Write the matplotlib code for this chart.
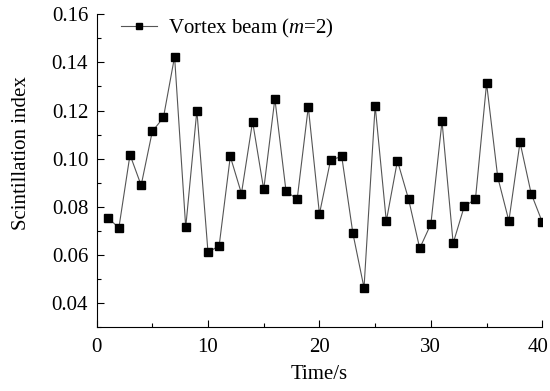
import matplotlib
matplotlib.use('Agg')
import matplotlib.pyplot as plt
import matplotlib.transforms as mtransforms
from matplotlib.ticker import MultipleLocator

plt.rcParams['font.family'] = 'Liberation Serif'
plt.rcParams['mathtext.fontset'] = 'custom'
plt.rcParams['mathtext.it'] = 'Liberation Serif:italic'
plt.rcParams['mathtext.rm'] = 'Liberation Serif'

# Data
time_s = list(range(1, 41))
scint = [0.0755, 0.0712, 0.1016, 0.0889, 0.1113, 0.1171, 0.1424, 0.0714, 0.1200, 0.0610,
         0.0638, 0.1009, 0.0855, 0.1154, 0.0872, 0.1249, 0.0865, 0.0831, 0.1215, 0.0770,
         0.0994, 0.1009, 0.0690, 0.0463, 0.1220, 0.0740, 0.0991, 0.0831, 0.0627, 0.0728,
         0.1155, 0.0648, 0.0802, 0.0831, 0.1313, 0.0923, 0.0741, 0.1068, 0.0855, 0.0736]

fig = plt.figure(figsize=(5.5, 3.91), dpi=100)
ax = fig.add_axes([0.1756, 0.1637, 0.8104, 0.7997])

ax.plot(time_s, scint, color='#555555', lw=0.8, marker='s', ms=5.5,
        mfc='black', mec='black', label='Vortex beam ($m$=2)')

ax.set_xlim(0, 40)
ax.set_ylim(0.03, 0.16)
ax.set_xticks([0, 10, 20, 30, 40])
ax.set_xticklabels(['0', '10', '20', '30', '40'])
ax.xaxis.set_minor_locator(MultipleLocator(5))
ax.yaxis.set_minor_locator(MultipleLocator(0.01))
ax.set_yticks([0.04, 0.06, 0.08, 0.10, 0.12, 0.14, 0.16])
ax.set_yticklabels(['0.04', '0.06', '0.08', '0.10', '0.12', '0.14', '0.16'])

ax.tick_params(which='both', direction='in', labelsize=15, width=0.8)
ax.tick_params(which='major', length=5)
ax.tick_params(which='minor', length=3)
ax.tick_params(axis='x', which='major', pad=8)
ax.tick_params(axis='y', which='major', pad=6)
ax.spines['top'].set_visible(False)
ax.spines['right'].set_visible(False)

# nudge the last x tick label so it stays inside the figure edge
last = ax.xaxis.get_major_ticks()[-1].label1
last.set_transform(last.get_transform() +
                   mtransforms.ScaledTranslation(-4.5 / 100, 0, fig.dpi_scale_trans))

ax.set_xlabel('Time/s', fontsize=15, labelpad=6)
ax.set_ylabel('Scintillation index', fontsize=15)
ax.yaxis.set_label_coords(-0.147, 0.556)

ax.legend(loc='center left', bbox_to_anchor=(0.054, 0.955), frameon=False,
          fontsize=15, handlelength=1.75, handletextpad=0.5,
          borderpad=0, borderaxespad=0, markerscale=0.9)

fig.savefig('out.png', dpi=100)
